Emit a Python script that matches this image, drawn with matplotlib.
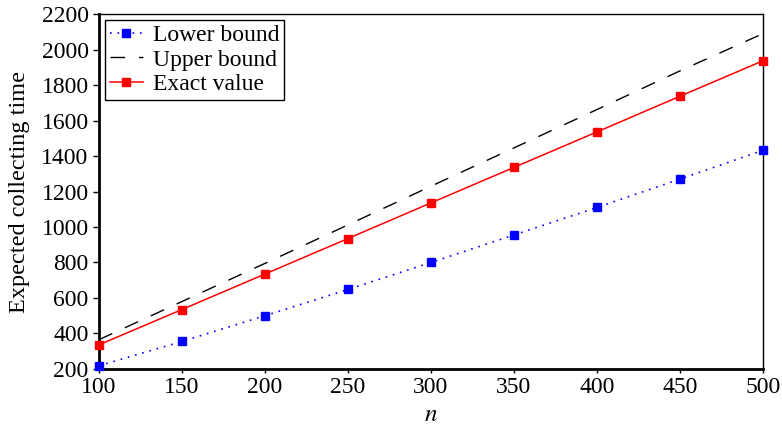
import matplotlib.pyplot as plt

# Data
n = [100, 150, 200, 250, 300, 350, 400, 450, 500]
lower_bound = [218, 355, 500, 648, 800, 955, 1110, 1270, 1432]
upper_bound = [365, 580, 795, 1012, 1230, 1446, 1662, 1880, 2090]
exact_value = [336, 535, 735, 935, 1136, 1336, 1536, 1737, 1937]

plt.rcParams['font.family'] = ['Liberation Serif', 'DejaVu Serif']
plt.rcParams['mathtext.fontset'] = 'stix'

fig = plt.figure(figsize=(7.82, 4.28), dpi=100)
ax = fig.add_axes([0.1266, 0.138, 0.849, 0.829])

ax.plot(n, lower_bound, color='blue', linestyle=(0, (1, 3.5)), linewidth=1.2,
        marker='s', markersize=5.5, label='Lower bound', clip_on=False, zorder=3)
ax.plot(n, upper_bound, color='black', linestyle=(0, (10.5, 10)), linewidth=1.0,
        label='Upper bound', clip_on=False)
ax.plot(n, exact_value, color='red', linestyle='-', linewidth=1.1,
        marker='s', markersize=5.5, label='Exact value', clip_on=False, zorder=3)

ax.set_xlim(100, 500)
ax.set_ylim(200, 2200)
ax.set_xticks(range(100, 501, 50))
ax.set_yticks(range(200, 2201, 200))

ax.set_xlabel('$n$', fontsize=18, labelpad=4)
ax.set_ylabel('Expected collecting time', fontsize=17.5, labelpad=8)
ax.tick_params(axis='both', labelsize=17, direction='out', width=1)
ax.tick_params(axis='y', length=4.5, pad=3)
ax.tick_params(axis='x', length=3, pad=3)
ax.tick_params(top=False, right=False)

ax.spines['left'].set_linewidth(2)
ax.spines['bottom'].set_linewidth(2)
ax.spines['top'].set_linewidth(1)
ax.spines['right'].set_linewidth(1)

leg = ax.legend(loc='upper left', fontsize=17, frameon=True, fancybox=False,
                edgecolor='black', framealpha=1, borderpad=0.2, labelspacing=0.12,
                handlelength=1.4, handletextpad=0.42, borderaxespad=0.25)
leg.get_frame().set_linewidth(1)

fig.savefig('out.png', dpi=100)
